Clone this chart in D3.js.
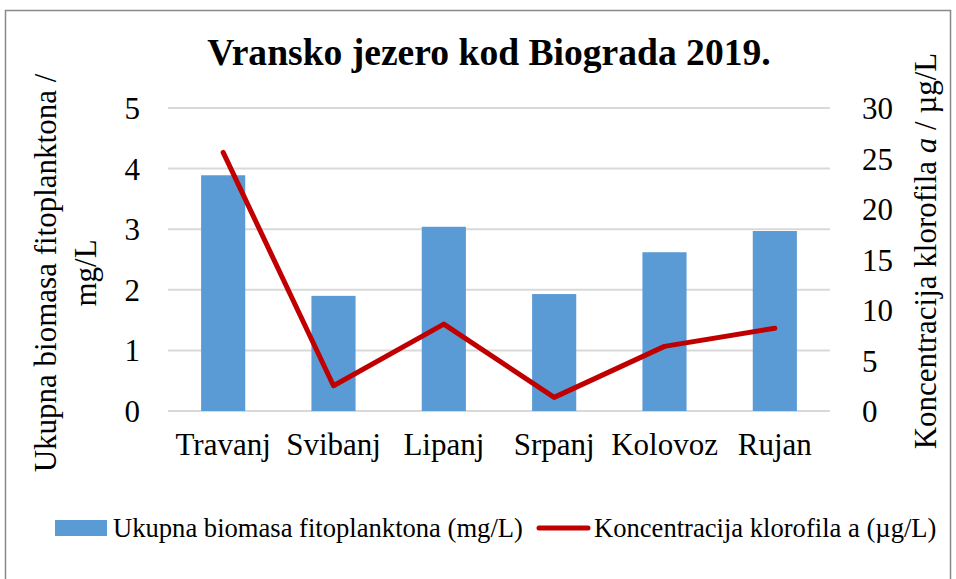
<!DOCTYPE html>
<html>
<head>
<meta charset="UTF-8">
<title>Vransko jezero kod Biograda 2019.</title>
<script src="https://cdn.jsdelivr.net/npm/d3@7"></script>
<style>
	body { margin: 0; background: #fff; }
	svg text { font-family: "Liberation Serif", serif; }
</style>
</head>
<body>
<div id="viz"></div>
<script>
// data
const months = ['Travanj', 'Svibanj', 'Lipanj', 'Srpanj', 'Kolovoz', 'Rujan'];
const biomass = [3.89, 1.90, 3.04, 1.93, 2.62, 2.97];      // mg/L, left axis
const chlorophyll = [25.6, 2.5, 8.6, 1.35, 6.4, 8.2];      // µg/L, right axis
const leftTicks = [0, 1, 2, 3, 4, 5];
const rightTicks = [0, 5, 10, 15, 20, 25, 30];

const FONT = 'Liberation Serif';

const W = 956, H = 579;
const margin = {top: 108, left: 168, right: 126, bottom: 168};
const width = W - margin.left - margin.right;
const height = H - margin.top - margin.bottom;

const svg = d3.select('#viz').append('svg')
	.attr('width', W)
	.attr('height', H);

// outer frame
svg.append('rect')
	.attr('x', 5.5).attr('y', 10.5)
	.attr('width', 945).attr('height', 600)
	.attr('fill', 'none')
	.attr('stroke', '#898989')
	.attr('stroke-width', 1.5);

svg.append('text')
	.attr('x', 489).attr('y', 65)
	.attr('text-anchor', 'middle')
	.attr('font-family', FONT)
	.attr('font-size', 37.6)
	.attr('font-weight', 'bold')
	.text('Vransko jezero kod Biograda 2019.');

const g = svg.append('g')
	.attr('transform', 'translate(' + margin.left + ',' + margin.top + ')');

let x = d3.scaleBand()
	.domain(months)
	.range([0, width])
	.paddingInner(0.6)
	.paddingOuter(0.3);

let yL = d3.scaleLinear().domain([0, 5]).range([height, 0]);
let yR = d3.scaleLinear().domain([0, 30]).range([height, 0]);

// gridlines
g.selectAll('.grid')
	.data(leftTicks)
	.enter().append('line')
	.attr('class', 'grid')
	.attr('x1', 0).attr('x2', width)
	.attr('y1', d => yL(d)).attr('y2', d => yL(d))
	.attr('stroke', '#d9d9d9')
	.attr('stroke-width', 2);

function styleAxis(sel) {
	sel.attr('font-family', FONT).attr('font-size', 31);
	sel.select('.domain').remove();
	sel.selectAll('text').attr('fill', '#000');
}

// left axis
let gyL = g.append('g')
	.call(d3.axisLeft(yL).tickValues(leftTicks).tickFormat(d3.format('d')).tickSize(0).tickPadding(28))
	.call(styleAxis);
gyL.selectAll('text').attr('dy', '0.34em');

// right axis
let gyR = g.append('g')
	.attr('transform', 'translate(' + width + ',0)')
	.call(d3.axisRight(yR).tickValues(rightTicks).tickFormat(d3.format('d')).tickSize(0).tickPadding(32))
	.call(styleAxis);
gyR.selectAll('text').attr('dy', '0.34em');

// bars
g.selectAll('.bar')
	.data(biomass)
	.enter().append('rect')
	.attr('class', 'bar')
	.attr('x', (d, i) => x(months[i]))
	.attr('width', x.bandwidth())
	.attr('y', d => yL(d))
	.attr('height', d => height - yL(d))
	.attr('fill', '#5b9bd5');

// x axis
g.append('g')
	.attr('transform', 'translate(0,' + height + ')')
	.call(d3.axisBottom(x).tickSize(0).tickPadding(22))
	.call(styleAxis);

// line
const line = d3.line()
	.x((d, i) => x(months[i]) + x.bandwidth() / 2)
	.y(d => yR(d));

g.append('path')
	.datum(chlorophyll)
	.attr('d', line)
	.attr('fill', 'none')
	.attr('stroke', '#c00000')
	.attr('stroke-width', 5)
	.attr('stroke-linecap', 'round')
	.attr('stroke-linejoin', 'round');

// axis titles
let lt = svg.append('text')
	.attr('transform', 'translate(45,273) rotate(-90)')
	.attr('text-anchor', 'middle')
	.attr('font-family', FONT)
	.attr('font-size', 31);
lt.append('tspan').attr('x', 0).attr('dy', '0.35em').text('Ukupna biomasa fitoplanktona /');
lt.append('tspan').attr('x', 0).attr('dy', '1.3em').text('mg/L');

let rt = svg.append('text')
	.attr('transform', 'translate(925,251) rotate(-90)')
	.attr('text-anchor', 'middle')
	.attr('dy', '0.35em')
	.attr('font-family', FONT)
	.attr('font-size', 31);
rt.append('tspan').text('Koncentracija klorofila ');
rt.append('tspan').attr('font-style', 'italic').text('a');
rt.append('tspan').text(' / µg/L');

// legend
const legend = svg.append('g')
	.attr('font-family', FONT)
	.attr('font-size', 26.6);
legend.append('rect')
	.attr('x', 55).attr('y', 520)
	.attr('width', 52).attr('height', 16)
	.attr('fill', '#5b9bd5');
legend.append('text')
	.attr('x', 113).attr('y', 537)
	.text('Ukupna biomasa fitoplanktona (mg/L)');
legend.append('line')
	.attr('x1', 539).attr('x2', 588)
	.attr('y1', 528).attr('y2', 528)
	.attr('stroke', '#c00000')
	.attr('stroke-width', 5)
	.attr('stroke-linecap', 'round');
legend.append('text')
	.attr('x', 594).attr('y', 537)
	.text('Koncentracija klorofila a (µg/L)');
</script>
</body>
</html>
